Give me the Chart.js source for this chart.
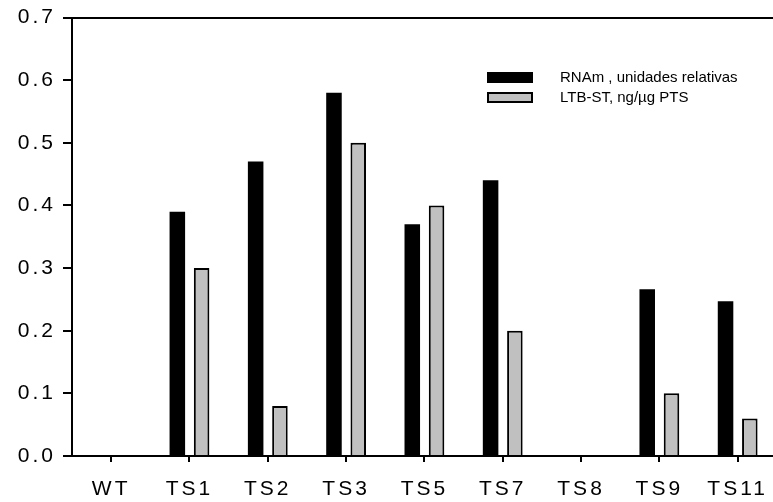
<!DOCTYPE html>
<html>
<head>
<meta charset="utf-8">
<script src="https://cdn.jsdelivr.net/npm/chart.js@4.4.1/dist/chart.umd.min.js"></script>
<style>
  html, body { margin: 0; padding: 0; background: #fff; overflow: hidden; }
  #wrap { position: relative; width: 777px; height: 502px; }
</style>
</head>
<body>
<div id="wrap"><canvas id="chart"></canvas></div>
<script>
  const categories = ['WT', 'TS1', 'TS2', 'TS3', 'TS5', 'TS7', 'TS8', 'TS9', 'TS11'];
  const rnaValues = [0, 0.39, 0.47, 0.58, 0.37, 0.44, 0, 0.266, 0.247];
  const ltbValues = [0, 0.30, 0.08, 0.50, 0.40, 0.20, 0, 0.10, 0.06];
  const seriesLabels = ['RNAm , unidades relativas', 'LTB-ST, ng/µg PTS'];
  const yMax = 0.7;
  const yStep = 0.1;

  const FONT = '"Liberation Sans", Arial, sans-serif';

  // spaced-out tick text like the original, legend drawn by hand afterwards
  const tickSpacing = {
    id: 'tickSpacing',
    beforeDraw(chart) {
      chart.ctx.letterSpacing = '3px';
    },
  };

  const boxLegend = {
    id: 'boxLegend',
    afterDraw(chart) {
      const ctx = chart.ctx;
      ctx.save();
      ctx.letterSpacing = '0px';
      chart.data.datasets.forEach((ds, i) => {
        const y = 72 + i * 20;
        ctx.fillStyle = ds.backgroundColor;
        ctx.fillRect(487, y, 46, 11);
        ctx.lineWidth = 2;
        ctx.strokeStyle = '#000';
        ctx.strokeRect(488, y + 1, 44, 9);
        ctx.fillStyle = '#000';
        ctx.font = '15px ' + FONT;
        ctx.textBaseline = 'middle';
        ctx.textAlign = 'left';
        ctx.fillText(ds.label, 560, y + 6);
      });
      ctx.restore();
    },
  };

  new Chart(document.getElementById('chart'), {
    type: 'bar',
    data: {
      labels: categories,
      datasets: [
        {
          label: seriesLabels[0],
          data: rnaValues,
          backgroundColor: '#000000',
          borderColor: '#000000',
          borderWidth: 0,
        },
        {
          label: seriesLabels[1],
          data: ltbValues,
          backgroundColor: '#c0c0c0',
          borderColor: '#000000',
          borderWidth: 2,
        },
      ],
    },
    options: {
      responsive: true,
      maintainAspectRatio: false,
      devicePixelRatio: 1,
      animation: false,
      categoryPercentage: 0.62,
      barPercentage: 0.64,
      layout: { padding: { top: 17, left: 0, right: 0, bottom: 0 } },
      plugins: {
        legend: { display: false },
        tooltip: { enabled: false },
      },
      scales: {
        x: {
          offset: true,
          grid: {
            offset: false,
            drawOnChartArea: false,
            tickLength: 6,
            tickWidth: 2,
            tickColor: '#000',
            color: '#000',
            lineWidth: 2,
          },
          border: { color: '#000', width: 2 },
          ticks: {
            color: '#000',
            font: { family: FONT, size: 21 },
            padding: 15,
            maxRotation: 0,
            autoSkip: false,
          },
          afterFit(scale) { scale.height = 46; },
        },
        y: {
          min: 0,
          max: yMax,
          grid: {
            drawOnChartArea: true,
            color: (c) => (c.tick && Math.abs(c.tick.value - yMax) < 1e-6 ? '#000' : 'rgba(0,0,0,0)'),
            tickColor: '#000',
            tickLength: 9,
            lineWidth: 2,
          },
          border: { color: '#000', width: 2 },
          ticks: {
            stepSize: yStep,
            color: '#000',
            font: { family: FONT, size: 21, lineHeight: 1 },
            padding: 7,
            callback: (v) => Number(v).toFixed(1),
          },
          afterFit(scale) { scale.width = 72; },
        },
      },
    },
    plugins: [tickSpacing, boxLegend],
  });
</script>
</body>
</html>
